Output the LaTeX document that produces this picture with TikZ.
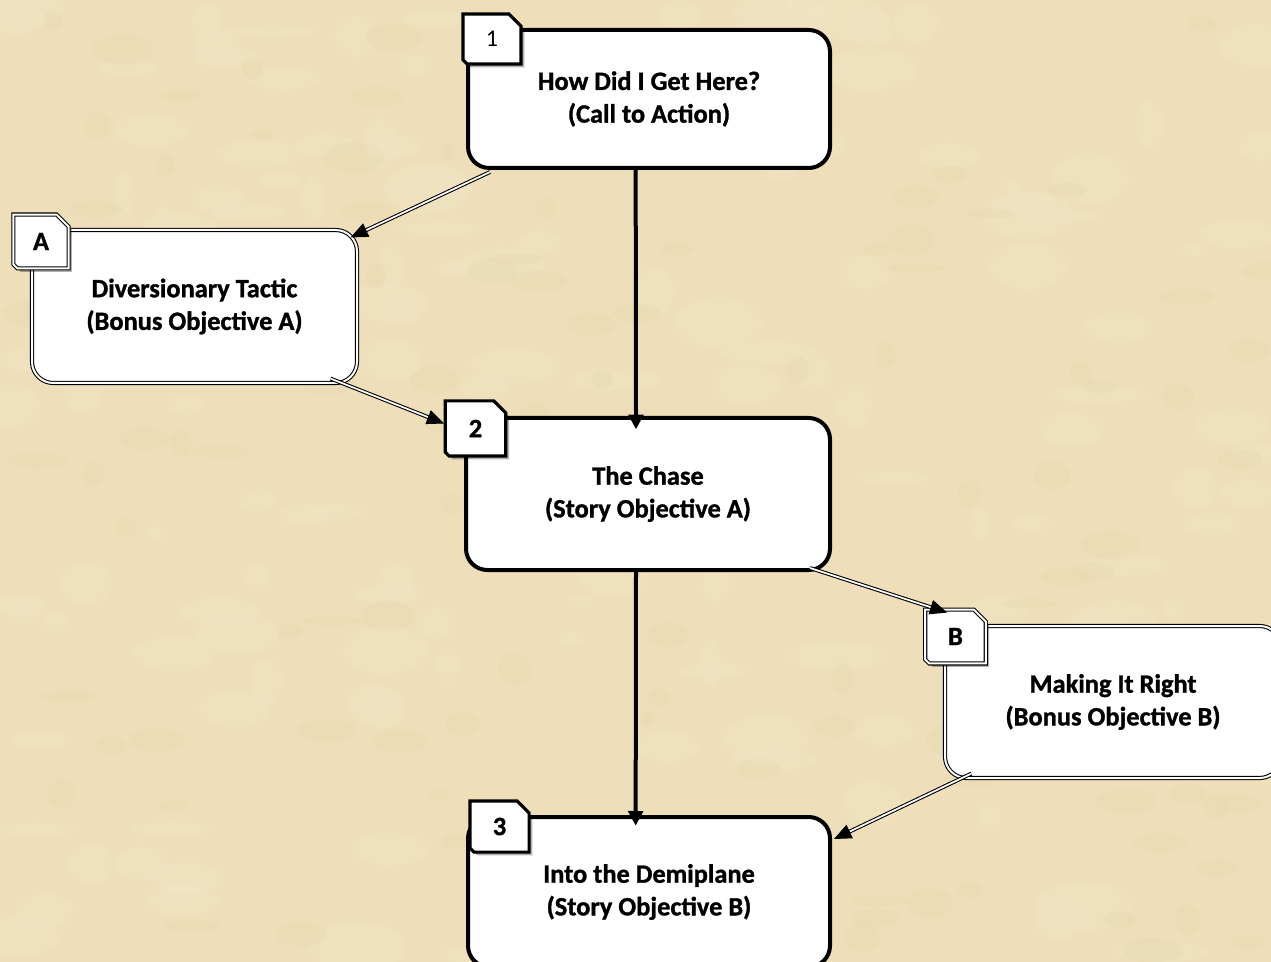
\documentclass[tikz,border=0pt]{standalone}
\usepackage{fontspec}
\setmainfont{Carlito}[BoldFeatures={FakeBold=1.2}]
\usetikzlibrary{arrows.meta, positioning, shadows}

\definecolor{parchment}{RGB}{238,223,186}
\definecolor{parchlight}{RGB}{246,236,210}
\definecolor{parchdark}{RGB}{222,200,155}

\begin{document}
\begin{tikzpicture}[
        x=0.75pt, y=-0.75pt,
        font=\fontsize{19.8}{24.5}\selectfont\bfseries,
        stage/.style={draw, line width=3pt, rounded corners=16pt, fill=white, align=center, inner sep=0pt},
        bonus/.style={draw, line width=0.8pt, double=white, double distance=1.5pt, rounded corners=16pt, fill=white, align=center, inner sep=0pt},
        tabline/.style={draw, line width=2.4pt, line join=miter, fill=white, drop shadow={shadow xshift=2.5pt, shadow yshift=-2.5pt, fill=black, opacity=0.3}},
        dtabline/.style={tabline, line width=0.8pt, double=white, double distance=1.5pt},
        % chamfered tab drawn round an empty node
        tab/.style 2 args={inner sep=0pt, append after command={\pgfextra{
            \draw[#2] ([yshift=3pt]\tikzlastnode.south west) -- (\tikzlastnode.north west)
                -- ([xshift=-9pt]\tikzlastnode.north east) -- ([yshift=-9pt]\tikzlastnode.north east)
                -- (\tikzlastnode.south east) -- ([xshift=3pt]\tikzlastnode.south west) -- cycle;
            \node at (\tikzlastnode.center) {#1};}}},
        line/.style={-{Triangle[length=11pt,width=11pt]}, line width=3pt},
        dline/.style={line width=0.8pt, double=white, double distance=1.3pt, -{Triangle[length=13pt,width=11pt]}}
    ]

    % parchment background
    \useasboundingbox (0,0) rectangle (1271,962);
    \fill[parchment] (0,0) rectangle (1271,962);
    \pgfmathsetseed{11}
    \foreach \i in {1,...,160} {
        \fill[parchlight, opacity=0.18] ({rnd*1271},{rnd*962}) ellipse ({10+rnd*40} and {6+rnd*20});
    }
    \foreach \i in {1,...,120} {
        \fill[parchdark, opacity=0.12] ({rnd*1271},{rnd*962}) ellipse ({6+rnd*25} and {4+rnd*12});
    }

    % story objectives
    \node[stage, minimum width=271.5pt, minimum height=103.5pt] (call) at (649,99) {How Did I Get Here?\\(Call to Action)};
    \node[stage, minimum width=273pt, minimum height=114pt] (chase) at (648,494) {The Chase\\(Story Objective A)};
    \node[stage, minimum width=271.5pt, minimum height=112.5pt] (into) at (649,892) {Into the Demiplane\\(Story Objective B)};

    % bonus objectives
    \node[bonus, minimum width=243.75pt, minimum height=114.75pt] (divert) at (194.5,306.5) {Diversionary Tactic\\(Bonus Objective A)};
    \node[bonus, minimum width=252pt, minimum height=114pt] (making) at (1113,702) {Making It Right\\(Bonus Objective B)};

    % tabs
    \node[tab={\fontsize{18}{20}\selectfont\mdseries 1}{tabline}, minimum width=43pt, minimum height=37pt] (tabone) at (492,39) {};
    \node[tab={2}{tabline}, minimum width=45pt, minimum height=41pt] (tabtwo) at (475.5,428.5) {};
    \node[tab={3}{tabline}, minimum width=44pt, minimum height=38pt] (tabthree) at (499.5,826.5) {};
    \node[tab={A}{dtabline}, minimum width=41pt, minimum height=40pt] (taba) at (41,241.5) {};
    \node[tab={B}{dtabline}, minimum width=45pt, minimum height=40pt] (tabb) at (955.5,636.5) {};

    % main path
    \draw[line, shorten >=-10pt] ([xshift=-10pt]call.south) -- ([xshift=-9pt]chase.north);
    \draw[line, shorten >=-8pt] ([xshift=-9pt]chase.south) -- ([xshift=-10pt]into.north);

    % side paths
    \draw[dline] ([shift={(24,2)}]call.south west) -- ([shift={(-7,8)}]divert.north east);
    \draw[dline] ([shift={(-27,-5)}]divert.south east) -- ([shift={(-1,-5)}]tabtwo.west);
    \draw[dline] ([shift={(-22,-4)}]chase.south east) -- ([shift={(22,3)}]tabb.north west);
    \draw[dline] ([shift={(27,-5)}]making.south west) -- ([shift={(2,24)}]into.north east);

\end{tikzpicture}
\end{document}
